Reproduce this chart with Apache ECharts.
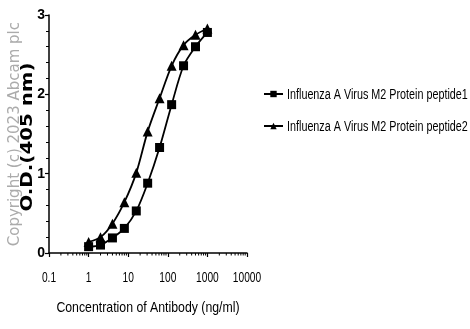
<!DOCTYPE html>
<html><head><meta charset="utf-8">
<script src="https://cdn.jsdelivr.net/npm/echarts@6/dist/echarts.min.js"></script>
<style>html,body{margin:0;padding:0;background:#fff}#c{width:470px;height:329px}</style>
</head><body><div id="c"></div>
<script>
const concentrations = [1, 2, 4, 8, 16, 31, 62, 125, 250, 500, 1000];
const peptide1 = [0.08, 0.10, 0.19, 0.31, 0.53, 0.88, 1.33, 1.87, 2.36, 2.60, 2.78];
const peptide2 = [0.14, 0.20, 0.37, 0.64, 1.01, 1.53, 1.95, 2.36, 2.62, 2.75, 2.83];
const seriesNames = ['Influenza A Virus M2 Protein peptide1', 'Influenza A Virus M2 Protein peptide2'];
const xTickValues = [0.1, 1, 10, 100, 1000, 10000];
const xTickLabels = ['0.1', '1', '10', '100', '1000', '10000'];
const yTicks = [0, 1, 2, 3];

const minorX = [];
for (let d = -1; d < 4; d++) for (let m = 2; m <= 9; m++) minorX.push(m * Math.pow(10, d));

const sans = '"Liberation Sans", Arial, sans-serif';
const chart = echarts.init(document.getElementById('c'));

const legendCommon = {
  orient: 'vertical', left: 263, itemWidth: 19, itemHeight: 8, itemGap: 0, padding: 0,
  textStyle: { fontFamily: sans, fontSize: 14, color: 'rgba(0,0,0,0)' },
  selectedMode: false
};

chart.setOption({
  animation: false,
  grid: { left: 49, top: 15, width: 198, height: 238, containLabel: false },
  legend: [
    Object.assign({}, legendCommon, { top: 87, data: [seriesNames[0]] }),
    Object.assign({}, legendCommon, { top: 119, data: [seriesNames[1]] })
  ],
  xAxis: {
    type: 'log', logBase: 10, min: 0.1, max: 10000,
    axisLine: { lineStyle: { color: '#000', width: 1.5 } },
    axisTick: { length: 4, lineStyle: { color: '#000', width: 1.2 } },
    axisLabel: { show: false },
    splitLine: { show: false }, minorTick: { show: false }
  },
  yAxis: {
    type: 'value', min: 0, max: 3, interval: 1,
    axisLine: { show: true, lineStyle: { color: '#000', width: 1.5 } },
    axisTick: { show: true, length: 4, lineStyle: { color: '#000', width: 1.2 } },
    minorTick: { show: true, splitNumber: 5, length: 3, lineStyle: { color: '#000', width: 1 } },
    axisLabel: { fontFamily: sans, fontSize: 14, fontWeight: 'bold', color: '#000', margin: 4,
      formatter: v => yTicks.includes(v) ? String(v) : '' },
    splitLine: { show: false }
  },
  graphic: [
    { type: 'text', left: 8, top: 22, rotation: Math.PI / 2,
      style: { text: 'Copyright (c) 2023 Abcam plc', fill: '#ababab', font: '15px "DejaVu Sans", sans-serif' } },
    { type: 'text', x: 28, y: 137, rotation: Math.PI / 2, scaleX: 1.24,
      style: { text: 'O.D.(405 nm)', fill: '#000', font: 'bold 16px "DejaVu Sans", sans-serif', align: 'center', verticalAlign: 'middle' } },
    { type: 'text', x: 148, y: 308, scaleX: 0.82,
      style: { text: 'Concentration of Antibody (ng/ml)', fill: '#000', font: '15px ' + sans, align: 'center', verticalAlign: 'middle' } },
    { type: 'text', x: 287, y: 95, scaleX: 0.77,
      style: { text: seriesNames[0], fill: '#000', font: '14px ' + sans, align: 'left', verticalAlign: 'middle' } },
    { type: 'text', x: 287, y: 127, scaleX: 0.77,
      style: { text: seriesNames[1], fill: '#000', font: '14px ' + sans, align: 'left', verticalAlign: 'middle' } }
  ],
  series: [
    { name: seriesNames[0], type: 'line', smooth: 0.3, symbol: 'rect', symbolSize: 9,
      lineStyle: { color: '#000', width: 1.8 }, itemStyle: { color: '#000' },
      data: concentrations.map((c, i) => [c, peptide1[i]]) },
    { name: seriesNames[1], type: 'line', smooth: 0.3, symbol: 'triangle', symbolSize: 10,
      lineStyle: { color: '#000', width: 1.8 }, itemStyle: { color: '#000' },
      data: concentrations.map((c, i) => [c, peptide2[i]]) },
    { type: 'custom', silent: true, clip: false,
      data: minorX.map(v => [v, 0]),
      renderItem: (params, api) => {
        const p = api.coord([api.value(0), 0]);
        return { type: 'line', shape: { x1: p[0], y1: p[1], x2: p[0], y2: p[1] + 2.5 },
          style: { stroke: '#000', lineWidth: 1 } };
      } },
    { type: 'custom', silent: true, clip: false,
      data: xTickValues.map((v, i) => [v, 0, i]),
      renderItem: (params, api) => {
        const p = api.coord([api.value(0), 0]);
        return { type: 'text', x: p[0], y: p[1] + 24.5, scaleX: 0.68,
          style: { text: xTickLabels[api.value(2)], fill: '#000', font: '15px ' + sans, align: 'center', verticalAlign: 'middle' } };
      } }
  ]
});
</script></body></html>
